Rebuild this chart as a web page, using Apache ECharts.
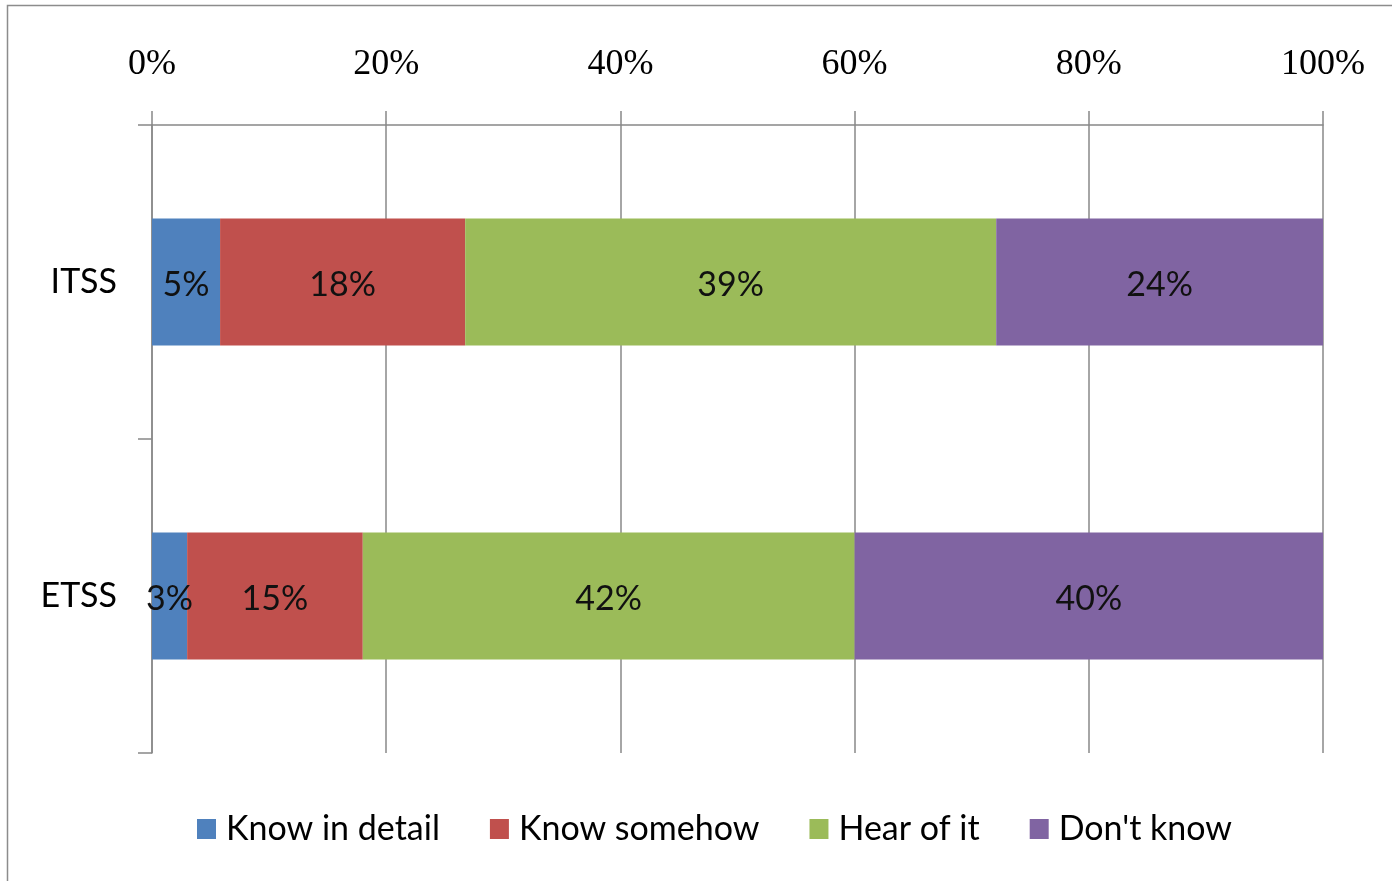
<!DOCTYPE html>
<html>
<head>
<meta charset="utf-8">
<script src="https://cdn.jsdelivr.net/npm/echarts@6/dist/echarts.min.js"></script>
<style>html,body{margin:0;padding:0;background:#fff;}#c{width:1392px;height:881px;}</style>
</head>
<body>
<div id="c"></div>
<script>
const categories = ['ITSS', 'ETSS'];
const knowInDetail = [5, 3];
const knowSomehow = [18, 15];
const hearOfIt = [39, 42];
const dontKnow = [24, 40];
const xTickLabels = ['0%', '20%', '40%', '60%', '80%', '100%'];

const seriesDefs = [
  { name: 'Know in detail', values: knowInDetail, color: '#4F81BD' },
  { name: 'Know somehow', values: knowSomehow, color: '#C0504D' },
  { name: 'Hear of it', values: hearOfIt, color: '#9BBB59' },
  { name: "Don't know", values: dontKnow, color: '#8064A2' }
];
const totals = categories.map((_, i) => seriesDefs.reduce((s, d) => s + d.values[i], 0));

const chart = echarts.init(document.getElementById('c'), null, { renderer: 'canvas' });
chart.setOption({
  animation: false,
  backgroundColor: '#fff',
  graphic: [{
    type: 'rect', shape: { x: 7.5, y: 5.5, width: 1500, height: 1000 },
    style: { fill: 'none', stroke: '#8c8c8c', lineWidth: 1.5 }, silent: true, z: -1
  }],
  grid: { left: 152, right: 69, top: 125, bottom: 128, containLabel: false },
  legend: {
    left: 192, top: 807, itemWidth: 19, itemHeight: 20, itemGap: 50,
    icon: 'rect',
    textStyle: { fontFamily: 'Lato', fontSize: 34, color: '#000', padding: [0, 0, 0, 5] },
    data: seriesDefs.map(d => d.name)
  },
  xAxis: {
    type: 'value', position: 'top', min: 0, max: 100, interval: 20,
    axisLine: { show: true, lineStyle: { color: '#888', width: 1.5 } },
    axisTick: { show: true, length: 14, lineStyle: { color: '#888', width: 1.5 } },
    axisLabel: {
      margin: 42, fontFamily: 'Liberation Serif', fontSize: 36, color: '#000',
      formatter: v => xTickLabels[Math.round(v / 20)]
    },
    splitLine: { show: true, lineStyle: { color: '#888', width: 1.5 } }
  },
  yAxis: {
    type: 'category', data: categories, inverse: true,
    axisLine: { show: true, lineStyle: { color: '#888', width: 1.5 } },
    axisTick: { show: true, length: 14, lineStyle: { color: '#888', width: 1.5 } },
    axisLabel: { margin: 35, fontFamily: 'Lato', fontSize: 34, color: '#000' }
  },
  series: seriesDefs.map(d => ({
    name: d.name, type: 'bar', stack: 'total', barWidth: 127,
    itemStyle: { color: d.color },
    label: {
      show: true, position: 'inside', offset: [0, 3], fontFamily: 'Lato', fontSize: 34, color: '#111',
      formatter: p => d.values[p.dataIndex] + '%'
    },
    data: d.values.map((v, i) => v / totals[i] * 100)
  }))
});
</script>
</body>
</html>
